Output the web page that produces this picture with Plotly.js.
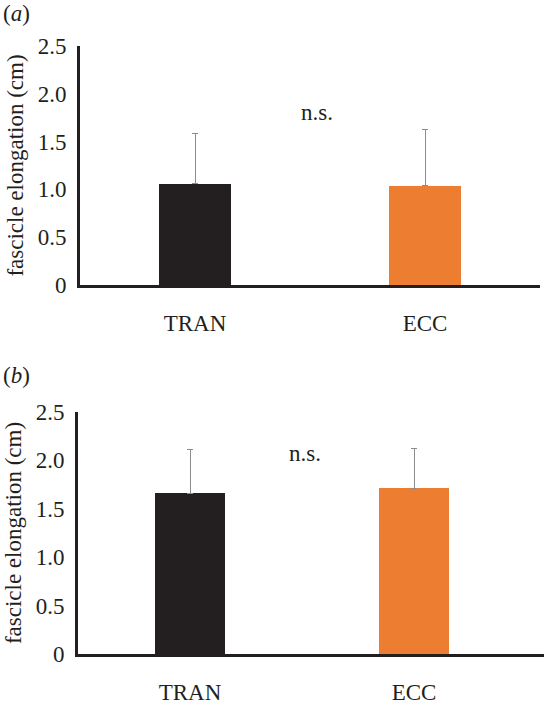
<!DOCTYPE html>
<html>
<head>
<meta charset="utf-8">
<script src="https://cdn.plot.ly/plotly-3.0.1.min.js"></script>
<style>html,body{margin:0;padding:0;background:#fff;}#chart{width:544px;height:706px;}</style>
</head>
<body>
<div id="chart"></div>
<script>
const categories = ["TRAN", "ECC"];
const barColors = ["#231f20", "#ed7d31"];
const meanA = [1.06, 1.04];
const errA = [0.53, 0.59];
const meanB = [1.66, 1.71];
const errB = [0.45, 0.41];
const yTickVals = [0, 0.5, 1.0, 1.5, 2.0, 2.5];
const yTickText = ["0", "0.5", "1.0", "1.5", "2.0", "2.5"];
const yTitle = "fascicle elongation (cm)";
const panelLabels = ["(<i>a</i>)", "(<i>b</i>)"];
const sigText = "n.s.";

const FONT = "Liberation Serif, Times New Roman, serif";
const FS = 23;

function barTrace(means, errs, xa, ya) {
  return {
    type: "bar",
    x: categories,
    y: means,
    xaxis: xa,
    yaxis: ya,
    width: 0.313,
    marker: {color: barColors, line: {width: 0}},
    error_y: {type: "data", symmetric: false, array: errs, arrayminus: errs.map(() => 0),
              color: "#8c8c8c", thickness: 1, width: 3},
    showlegend: false,
    hoverinfo: "skip"
  };
}

const W = 544, H = 706;
function yd(pxTop, pxBot) { return [(H - pxBot) / H, (H - pxTop) / H]; }

function xAxis(domain, range) {
  return {
    domain: domain, range: range, type: "category",
    showline: true, linecolor: "#231f20", linewidth: 3,
    ticks: "", showgrid: false, zeroline: false,
    tickfont: {family: FONT, size: FS, color: "#231f20"},
    ticklabelstandoff: 15, fixedrange: true
  };
}
function yAxis(domain, anchor) {
  return {
    domain: domain, range: [0, 2.5], anchor: anchor,
    showline: true, linecolor: "#231f20", linewidth: 3,
    ticks: "", showgrid: false, zeroline: false,
    tickvals: yTickVals, ticktext: yTickText,
    tickfont: {family: FONT, size: FS, color: "#231f20"},
    ticklabelstandoff: 6,
    title: {text: yTitle, font: {family: FONT, size: FS, color: "#231f20"}, standoff: 8},
    fixedrange: true
  };
}

const data = [
  barTrace(meanA, errA, "x", "y"),
  barTrace(meanB, errB, "x2", "y2")
];

const layout = {
  width: W, height: H,
  margin: {l: 0, r: 0, t: 0, b: 0},
  paper_bgcolor: "#fff", plot_bgcolor: "#fff",
  bargap: 0,
  xaxis: Object.assign(xAxis([80 / W, 540 / W], [-0.5, 1.5]), {anchor: "y"}),
  yaxis: yAxis(yd(46, 285), "x"),
  xaxis2: Object.assign(xAxis([78 / W, 1], [-0.5, 1.58]), {anchor: "y2"}),
  yaxis2: yAxis(yd(412, 654), "x2"),
  annotations: [
    {text: panelLabels[0], xref: "paper", yref: "paper", x: 1 / W, y: (H - 13) / H,
     xanchor: "left", yanchor: "middle", showarrow: false,
     font: {family: FONT, size: FS, color: "#231f20"}},
    {text: panelLabels[1], xref: "paper", yref: "paper", x: 1 / W, y: (H - 375) / H,
     xanchor: "left", yanchor: "middle", showarrow: false,
     font: {family: FONT, size: FS, color: "#231f20"}},
    {text: sigText, xref: "x", yref: "y", x: 0.53, y: 1.8, showarrow: false,
     xanchor: "center", yanchor: "middle",
     font: {family: FONT, size: FS, color: "#231f20"}},
    {text: sigText, xref: "x2", yref: "y2", x: 0.515, y: 2.07, showarrow: false,
     xanchor: "center", yanchor: "middle",
     font: {family: FONT, size: FS, color: "#231f20"}}
  ]
};

Plotly.newPlot("chart", data, layout, {displayModeBar: false, staticPlot: true});
</script>
</body>
</html>
